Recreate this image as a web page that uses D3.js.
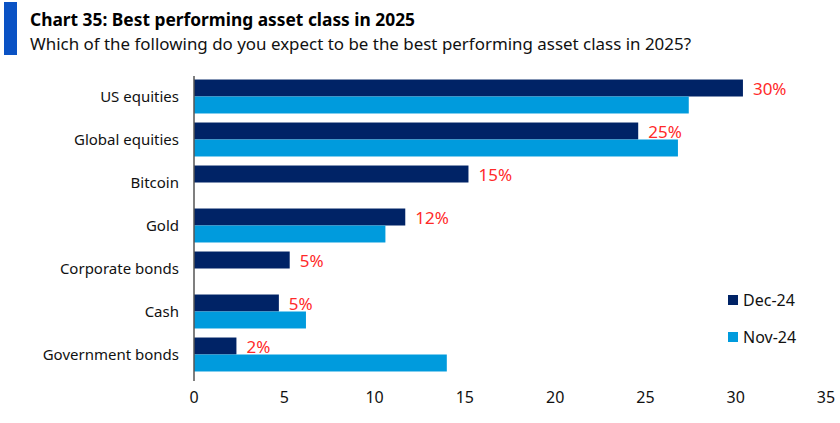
<!DOCTYPE html>
<html lang="en">
<head>
  <meta charset="UTF-8" />
  <title>Best performing asset class in 2025</title>
  <script src="https://d3js.org/d3.v7.min.js"></script>
  <style>
    html, body {
      margin: 0;
      padding: 0;
      background: #fff;
      font-family: "Noto Sans", sans-serif;
    }
    svg { display: block; }
  </style>
</head>
<body>
  <svg id="chart" width="840" height="423"></svg>

  <script>
    const categories = [
      "US equities",
      "Global equities",
      "Bitcoin",
      "Gold",
      "Corporate bonds",
      "Cash",
      "Government bonds"
    ];
    const series = ["Dec-24", "Nov-24"];
    const dec24 = [30.4, 24.6, 15.2, 11.7, 5.3, 4.7, 2.35];
    const nov24 = [27.4, 26.8, null, 10.6, null, 6.2, 14.0];
    const decLabels = ["30%", "25%", "15%", "12%", "5%", "5%", "2%"];
    const xTicks = [0, 5, 10, 15, 20, 25, 30, 35];

    const colors = { "Dec-24": "#002366", "Nov-24": "#009bdd" };

    const svg = d3.select("#chart");

    // header
    svg.append("rect")
      .attr("x", 4).attr("y", 2).attr("width", 13).attr("height", 53)
      .attr("fill", "#0a52c4");
    svg.append("text")
      .attr("x", 30).attr("y", 26)
      .attr("font-size", "18px")
      .attr("font-weight", "bold")
      .attr("fill", "#000")
      .attr("textLength", 385)
      .attr("lengthAdjust", "spacingAndGlyphs")
      .text("Chart 35: Best performing asset class in 2025");
    svg.append("text")
      .attr("x", 30).attr("y", 50)
      .attr("font-size", "17px")
      .attr("fill", "#111")
      .attr("textLength", 661)
      .attr("lengthAdjust", "spacingAndGlyphs")
      .text("Which of the following do you expect to be the best performing asset class in 2025?");

    const x = d3.scaleLinear().domain([0, 35]).range([194, 826]);
    const y = d3.scaleBand()
      .domain(categories)
      .range([75, 376])
      .paddingInner(0.21)
      .paddingOuter(0.105);
    const ySub = d3.scaleBand().domain(series).range([0, y.bandwidth()]);

    const rows = categories.map((c, i) => ({
      cat: c,
      label: decLabels[i],
      values: [
        { s: "Dec-24", v: dec24[i] },
        { s: "Nov-24", v: nov24[i] }
      ].filter(d => d.v !== null)
    }));

    const g = svg.selectAll("g.row")
      .data(rows)
      .join("g")
      .attr("class", "row")
      .attr("transform", d => `translate(0,${y(d.cat)})`);

    g.selectAll("rect")
      .data(d => d.values)
      .join("rect")
      .attr("x", x(0))
      .attr("y", d => ySub(d.s))
      .attr("width", d => x(d.v) - x(0))
      .attr("height", ySub.bandwidth())
      .attr("fill", d => colors[d.s]);

    // red value labels next to Dec-24 bars
    g.append("text")
      .attr("x", (d, i) => x(dec24[i]) + 10)
      .attr("y", ySub("Dec-24") + ySub.bandwidth() / 2 + 1)
      .attr("dy", "0.35em")
      .attr("font-size", "17px")
      .attr("fill", "#ff2a2a")
      .text(d => d.label);

    // category labels
    svg.append("g")
      .selectAll("text")
      .data(categories)
      .join("text")
      .attr("x", 179)
      .attr("y", d => y(d) + y.bandwidth() / 2)
      .attr("dy", "0.35em")
      .attr("text-anchor", "end")
      .attr("font-size", "15px")
      .attr("fill", "#111")
      .text(d => d);

    // vertical axis line
    svg.append("line")
      .attr("x1", x(0)).attr("x2", x(0))
      .attr("y1", 76).attr("y2", 381)
      .attr("stroke", "#555").attr("stroke-width", 1.5);

    // x tick labels
    svg.append("g")
      .selectAll("text")
      .data(xTicks)
      .join("text")
      .attr("x", d => x(d))
      .attr("y", 397)
      .attr("dy", "0.35em")
      .attr("text-anchor", "middle")
      .attr("font-size", "16px")
      .attr("fill", "#111")
      .text(d => d);

    // legend
    const legend = svg.append("g")
      .selectAll("g")
      .data(series)
      .join("g")
      .attr("transform", (d, i) => `translate(728,${300 + i * 37})`);
    legend.append("rect")
      .attr("x", 0).attr("y", -5)
      .attr("width", 10).attr("height", 10)
      .attr("fill", d => colors[d]);
    legend.append("text")
      .attr("x", 15).attr("y", 0)
      .attr("dy", "0.35em")
      .attr("font-size", "16px")
      .attr("fill", "#111")
      .text(d => d);
  </script>
</body>
</html>
